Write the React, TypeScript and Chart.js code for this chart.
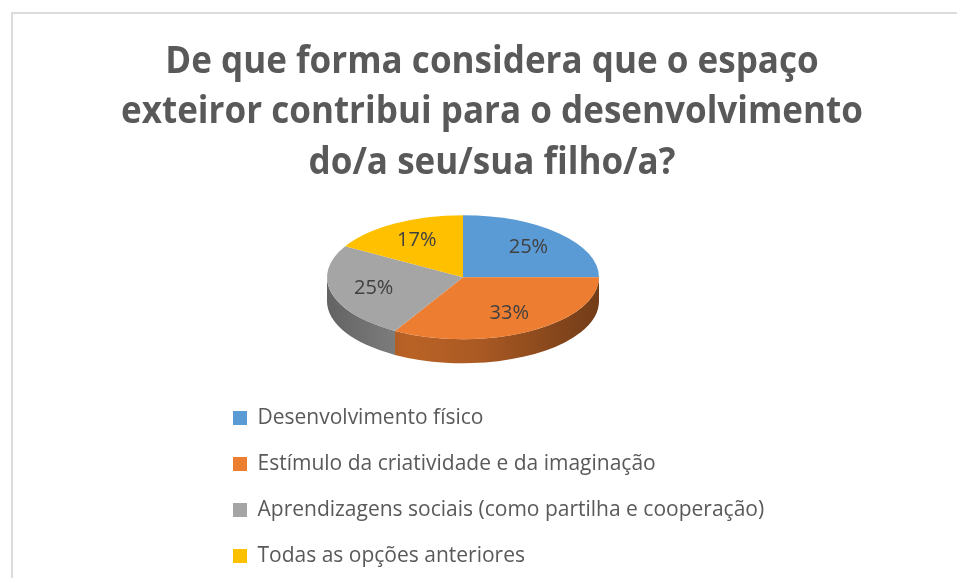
import React, { useEffect, useRef } from 'react';
import { Chart, registerables } from 'chart.js';

Chart.register(...registerables);

const TITLE_LINES = [
  'De que forma considera que o espaço',
  'exteiror contribui para o desenvolvimento',
  'do/a seu/sua filho/a?',
];
const CATEGORIES = [
  'Desenvolvimento físico',
  'Estímulo da criatividade e da imaginação',
  'Aprendizagens sociais (como partilha e cooperação)',
  'Todas as opções anteriores',
];
const RESPONSES = [3, 4, 3, 2];
const COLORS = ['#5B9BD5', '#ED7D31', '#A5A5A5', '#FFC000'];

// 3D projection settings (style only)
const PIE = { rx: 136, ry: 62, depth: 24, dx: -29, dy: -8.5, labelR: 0.68 };
// title style
const TITLE = { font: 'bold 38px "Open Sans"', color: '#595959', firstY: 48, lineH: 50.5, width: 742 };

function shade(hex: string, f: number): string {
  const n = parseInt(hex.slice(1), 16);
  const r = Math.round(((n >> 16) & 255) * f);
  const g = Math.round(((n >> 8) & 255) * f);
  const b = Math.round((n & 255) * f);
  return `rgb(${r},${g},${b})`;
}

const titlePlugin = {
  id: 'multiTitle',
  afterDraw(chart: any) {
    const ctx = chart.ctx;
    const area = chart.chartArea;
    const cx = (area.left + area.right) / 2;
    ctx.save();
    ctx.font = TITLE.font;
    ctx.fillStyle = TITLE.color;
    ctx.textAlign = 'center';
    ctx.textBaseline = 'middle';
    const widest = Math.max(...TITLE_LINES.map((l) => ctx.measureText(l).width));
    const sx = Math.min(1, TITLE.width / widest);
    ctx.translate(cx, 0);
    ctx.scale(sx, 1);
    TITLE_LINES.forEach((line, i) => {
      ctx.fillText(line, 0, TITLE.firstY + i * TITLE.lineH);
    });
    ctx.restore();
  },
};

const pie3d = {
  id: 'pie3d',
  beforeDatasetsDraw(chart: any) {
    const meta = chart.getDatasetMeta(0);
    const arcs = meta.data;
    const ctx = chart.ctx;
    ctx.save();
    if (!arcs.length) return;
    const a0 = arcs[0];
    const R = a0.outerRadius;
    const cx = a0.x + PIE.dx;
    const cy = a0.y + PIE.dy;
    const { rx, ry, depth } = PIE;
    arcs.forEach((arc: any, i: number) => {
      const a = Math.max(arc.startAngle, 0);
      const b = Math.min(arc.endAngle, Math.PI);
      if (b <= a) return;
      const col = COLORS[i];
      const g = ctx.createLinearGradient(cx - rx, 0, cx + rx, 0);
      g.addColorStop(0, shade(col, 0.6));
      g.addColorStop(0.3, shade(col, 0.78));
      g.addColorStop(0.55, shade(col, 0.72));
      g.addColorStop(1, shade(col, 0.48));
      ctx.beginPath();
      ctx.ellipse(cx, cy, rx, ry, 0, a, b, false);
      ctx.lineTo(cx + rx * Math.cos(b), cy + ry * Math.sin(b) + depth);
      ctx.ellipse(cx, cy + depth, rx, ry, 0, b, a, true);
      ctx.closePath();
      ctx.fillStyle = g;
      ctx.fill();
    });
    ctx.translate(cx, cy);
    ctx.scale(rx / R, ry / R);
    ctx.translate(-a0.x, -a0.y);
  },
  afterDatasetsDraw(chart: any) {
    const ctx = chart.ctx;
    ctx.restore();
    const arcs = chart.getDatasetMeta(0).data;
    if (!arcs.length) return;
    const a0 = arcs[0];
    const cx = a0.x + PIE.dx;
    const cy = a0.y + PIE.dy;
    const total = RESPONSES.reduce((s, v) => s + v, 0);
    ctx.save();
    ctx.fillStyle = '#404040';
    ctx.font = '20px "Open Sans"';
    ctx.textAlign = 'center';
    ctx.textBaseline = 'middle';
    arcs.forEach((arc: any, i: number) => {
      const mid = (arc.startAngle + arc.endAngle) / 2;
      const x = cx + PIE.rx * PIE.labelR * Math.cos(mid);
      const y = cy + PIE.ry * PIE.labelR * Math.sin(mid);
      ctx.fillText(Math.round((RESPONSES[i] / total) * 100) + '%', x, y);
    });
    ctx.restore();
  },
};

export default function App() {
  const ref = useRef<HTMLCanvasElement | null>(null);
  useEffect(() => {
    if (!ref.current) return;
    const chart = new Chart(ref.current, {
      type: 'pie',
      data: {
        labels: CATEGORIES,
        datasets: [
          {
            data: RESPONSES,
            backgroundColor: COLORS,
            borderWidth: 0,
            clip: false as any,
          },
        ],
      },
      options: {
        responsive: false,
        animation: false,
        events: [],
        layout: { padding: { left: 195, right: 181, top: 175, bottom: 2 } },
        plugins: {
          title: { display: false },
          legend: {
            position: 'bottom',
            align: 'start',
            labels: {
              boxWidth: 14,
              boxHeight: 14,
              padding: 25,
              color: '#595959',
              font: { family: '"Open Sans"', size: 21 },
            },
          },
          tooltip: { enabled: false },
        },
      } as any,
      plugins: [pie3d, titlePlugin],
    });
    return () => chart.destroy();
  }, []);
  return (
    <div
      style={{
        position: 'absolute',
        left: 11,
        top: 12,
        borderTop: '2px solid #dcdcdc',
        borderLeft: '2px solid #dcdcdc',
        background: '#fff',
      }}
    >
      <canvas ref={ref} width={944} height={564} style={{ display: 'block', width: 944, height: 564 }} />
    </div>
  );
}
